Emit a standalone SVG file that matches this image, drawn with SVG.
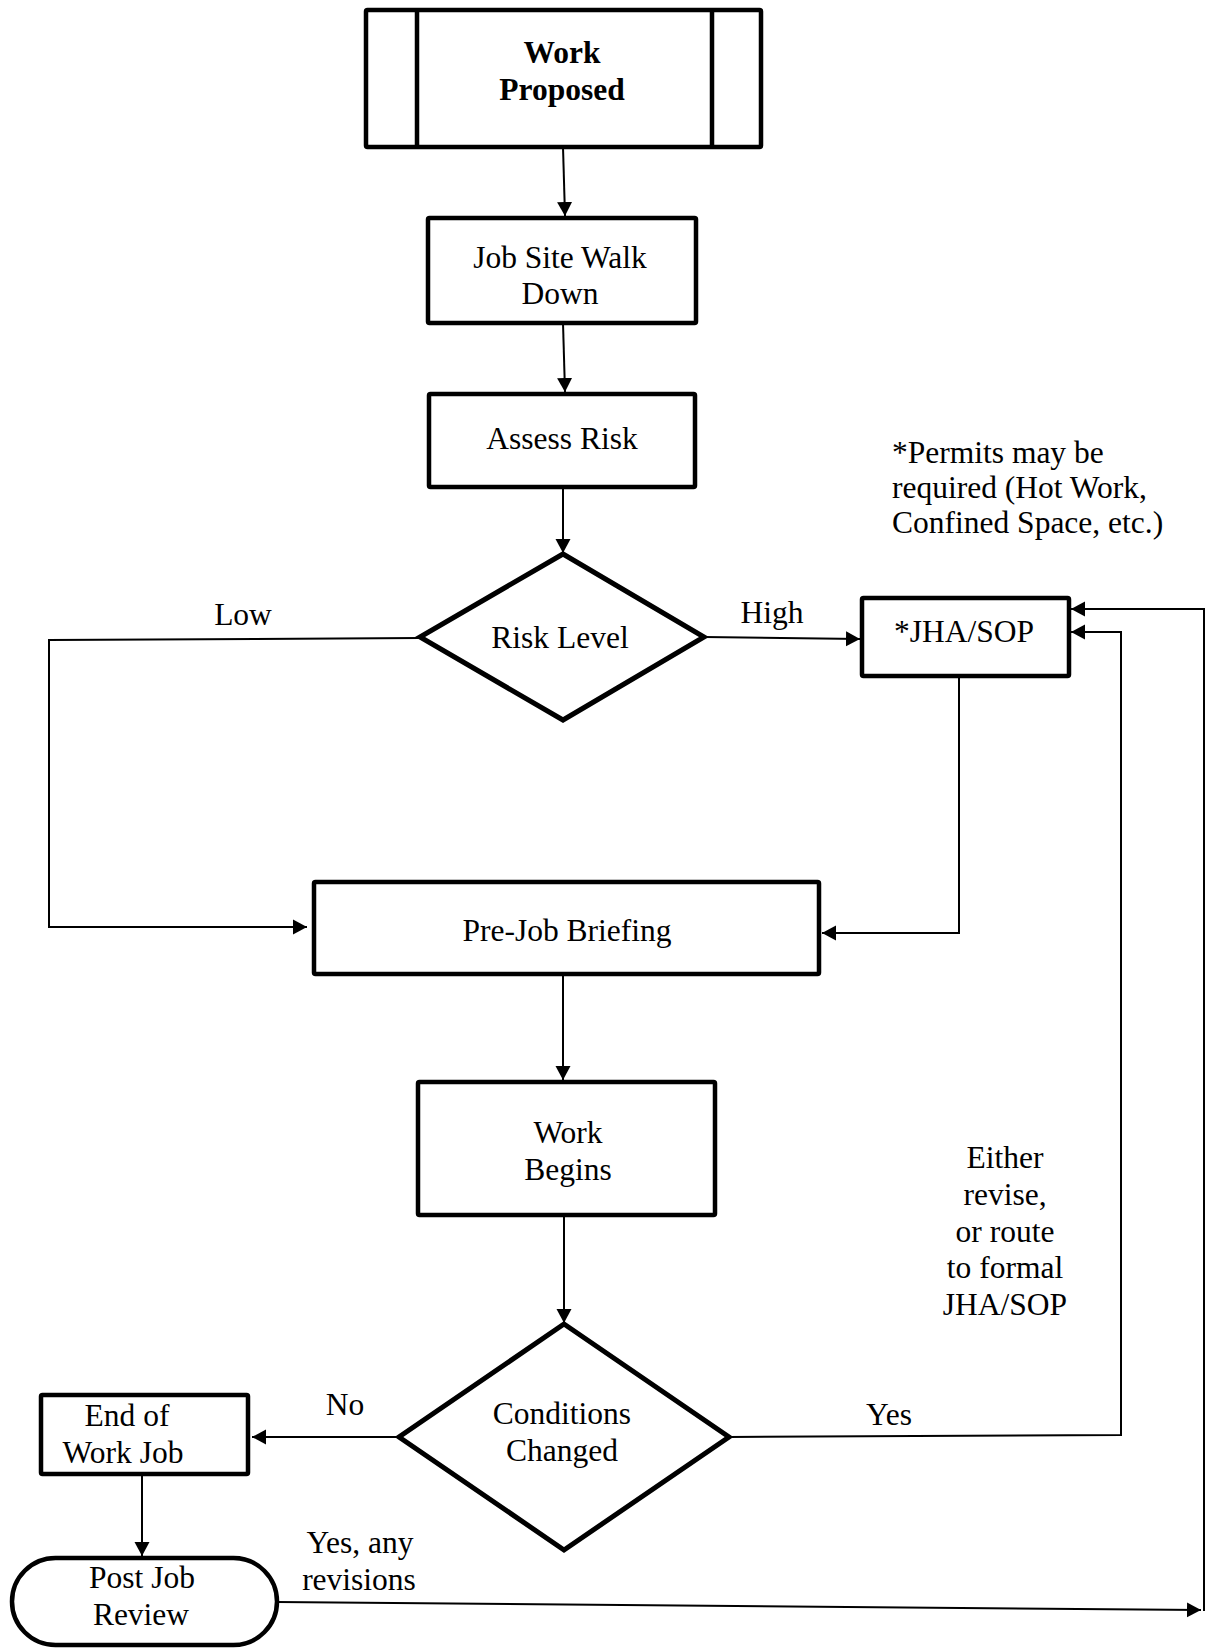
<svg xmlns="http://www.w3.org/2000/svg" width="1207" height="1648" viewBox="0 0 1207 1648">
<style>
.box{fill:#fff;stroke:#000;stroke-width:4.5;stroke-linejoin:round}
.dia{fill:#fff;stroke:#000;stroke-width:5;stroke-linejoin:miter}
.con{fill:none;stroke:#000;stroke-width:2}
text{font-family:"Liberation Serif","Times New Roman",serif;font-size:31.5px;fill:#000}
.c{text-anchor:middle}
.b{font-weight:bold}
</style>
<defs>
<marker id="arr" markerUnits="userSpaceOnUse" markerWidth="16" markerHeight="16" refX="14" refY="8" orient="auto">
<path d="M0,0.5 L14,8 L0,15.5 z" fill="#000"/>
</marker>
</defs>
<rect width="1207" height="1648" fill="#fff"/>
<g id="connectors">
<line class="con" x1="563" y1="147" x2="565" y2="216" marker-end="url(#arr)"/>
<line class="con" x1="563" y1="323" x2="565" y2="392" marker-end="url(#arr)"/>
<line class="con" x1="563" y1="487" x2="563" y2="553" marker-end="url(#arr)"/>
<line class="con" x1="704" y1="637" x2="860" y2="639" marker-end="url(#arr)"/>
<polyline class="con" points="420,638 49,640 49,927 307,927" marker-end="url(#arr)"/>
<polyline class="con" points="959,676 959,933 822,933" marker-end="url(#arr)"/>
<line class="con" x1="563" y1="974" x2="563" y2="1080" marker-end="url(#arr)"/>
<line class="con" x1="564" y1="1215" x2="564" y2="1323" marker-end="url(#arr)"/>
<line class="con" x1="399" y1="1437" x2="252" y2="1437" marker-end="url(#arr)"/>
<polyline class="con" points="729,1437 1121,1435 1121,632 1071,632" marker-end="url(#arr)"/>
<line class="con" x1="142" y1="1474" x2="142" y2="1556" marker-end="url(#arr)"/>
<line class="con" x1="277" y1="1602" x2="1201" y2="1610" marker-end="url(#arr)"/>
<polyline class="con" points="1204,1611 1204,609 1071,609" marker-end="url(#arr)"/>
</g>
<g id="work-proposed">
<rect class="box" x="366" y="10" width="395" height="137" rx="1.5"/>
<line x1="417" y1="10" x2="417" y2="147" stroke="#000" stroke-width="4.5"/>
<line x1="712" y1="10" x2="712" y2="147" stroke="#000" stroke-width="4.5"/>
<text class="c b" x="562" y="63">Work</text>
<text class="c b" x="562" y="100">Proposed</text>
</g>
<g id="job-site">
<rect class="box" x="428" y="218" width="268" height="105" rx="1.5"/>
<text class="c" x="560" y="268">Job Site Walk</text>
<text class="c" x="560" y="304">Down</text>
</g>
<g id="assess-risk">
<rect class="box" x="429" y="394" width="266" height="93" rx="1.5"/>
<text class="c" x="562" y="449">Assess Risk</text>
</g>
<g id="risk-level">
<polygon class="dia" points="563,554 704,637 563,720 420,637"/>
<text class="c" x="560" y="648">Risk Level</text>
</g>
<g id="jha-sop">
<rect class="box" x="862" y="598" width="207" height="78" rx="1.5"/>
<text class="c" x="964" y="642">*JHA/SOP</text>
</g>
<g id="permits-note">
<text x="892" y="463">*Permits may be</text>
<text x="892" y="498">required (Hot Work,</text>
<text x="892" y="533">Confined Space, etc.)</text>
</g>
<g id="pre-job">
<rect class="box" x="314" y="882" width="505" height="92" rx="1.5"/>
<text class="c" x="567" y="941">Pre-Job Briefing</text>
</g>
<g id="work-begins">
<rect class="box" x="418" y="1082" width="297" height="133" rx="1.5"/>
<text class="c" x="568" y="1143">Work</text>
<text class="c" x="568" y="1180">Begins</text>
</g>
<g id="conditions-changed">
<polygon class="dia" points="564,1324 729,1437 564,1550 399,1437"/>
<text class="c" x="562" y="1424">Conditions</text>
<text class="c" x="562" y="1461">Changed</text>
</g>
<g id="end-of-work">
<rect class="box" x="41" y="1395" width="207" height="79" rx="1.5"/>
<text class="c" x="127" y="1426">End of</text>
<text class="c" x="123" y="1463">Work Job</text>
</g>
<g id="post-job-review">
<rect class="box" x="12" y="1558" width="265" height="87" rx="43.5"/>
<text class="c" x="142" y="1588">Post Job</text>
<text class="c" x="141" y="1625">Review</text>
</g>
<g id="labels">
<text class="c" x="243" y="625">Low</text>
<text class="c" x="772" y="623">High</text>
<text class="c" x="345" y="1415">No</text>
<text class="c" x="889" y="1425">Yes</text>
<text class="c" x="360" y="1553">Yes, any</text>
<text class="c" x="359" y="1590">revisions</text>
<text class="c" x="1005" y="1168">Either</text>
<text class="c" x="1005" y="1205">revise,</text>
<text class="c" x="1005" y="1242">or route</text>
<text class="c" x="1005" y="1278">to formal</text>
<text class="c" x="1005" y="1315">JHA/SOP</text>
</g>
</svg>
